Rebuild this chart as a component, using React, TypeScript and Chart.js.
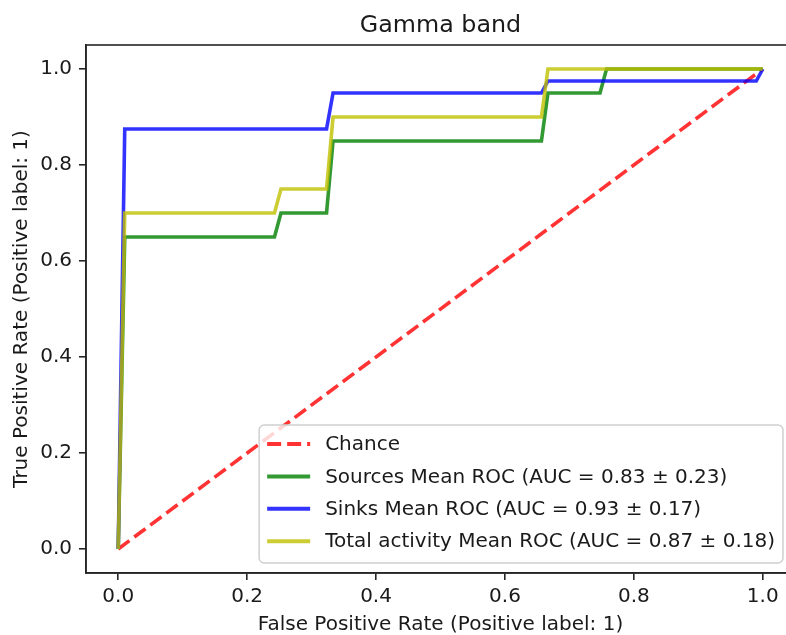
import React, { useEffect, useRef } from "react";
import { Chart, registerables } from "chart.js";

Chart.register(...registerables);

const titleText = "Gamma band";
const xAxisTitle = "False Positive Rate (Positive label: 1)";
const yAxisTitle = "True Positive Rate (Positive label: 1)";
const tickValues = [0, 0.2, 0.4, 0.6, 0.8, 1.0];

const chanceFpr = [0, 1];
const chanceTpr = [0, 1];

const sourcesFpr = [0, 0.0101, 0.2424, 0.2525, 0.3232, 0.3333, 0.6566, 0.6667, 0.7475, 0.7576, 1.0];
const sourcesTpr = [0, 0.65, 0.65, 0.7, 0.7, 0.85, 0.85, 0.95, 0.95, 1.0, 1.0];

const sinksFpr = [0, 0.0101, 0.3232, 0.3333, 0.6566, 0.6667, 0.9899, 1.0];
const sinksTpr = [0, 0.875, 0.875, 0.95, 0.95, 0.975, 0.975, 1.0];

const totalFpr = [0, 0.0101, 0.2424, 0.2525, 0.3232, 0.3333, 0.6566, 0.6667, 1.0];
const totalTpr = [0, 0.7, 0.7, 0.75, 0.75, 0.9, 0.9, 1.0, 1.0];

const seriesLabels = [
  "Chance",
  "Sources Mean ROC (AUC = 0.83 \u00b1 0.23)",
  "Sinks Mean ROC (AUC = 0.93 \u00b1 0.17)",
  "Total activity Mean ROC (AUC = 0.87 \u00b1 0.18)",
];
const seriesColors = [
  "rgba(255,0,0,0.8)",
  "rgba(0,128,0,0.8)",
  "rgba(0,0,255,0.8)",
  "rgba(191,191,0,0.8)",
];

const FONT = "'DejaVu Sans', sans-serif";
const TEXT = "#1a1a1a";
const AXIS = "#262626";

function pts(xs: number[], ys: number[]) {
  return xs.map((x, i) => ({ x, y: ys[i] }));
}

const framePlugin = {
  id: "frameAndExtras",
  afterDraw(chart: any) {
    const { ctx, chartArea } = chart;
    const { left, top, right, bottom } = chartArea;
    ctx.save();
    // spines
    ctx.strokeStyle = AXIS;
    ctx.lineWidth = 1.6;
    ctx.strokeRect(left, top, right - left, bottom - top);
    // title
    ctx.fillStyle = TEXT;
    ctx.font = `23.8px ${FONT}`;
    ctx.textAlign = "center";
    ctx.textBaseline = "alphabetic";
    ctx.fillText(titleText, (left + right) / 2, top - 13);

    // legend
    const fs = 20;
    ctx.font = `${fs}px ${FONT}`;
    const widths = seriesLabels.map((l) => ctx.measureText(l).width);
    const maxW = Math.max(...widths);
    const padL = 8, handleW = 43, gap = 15, padR = 8;
    const boxW = padL + handleW + gap + maxW + padR;
    const boxH = 138;
    const boxR = right - 12;
    const boxB = bottom - 10;
    const boxL = boxR - boxW;
    const boxT = boxB - boxH;
    const r = 5;
    ctx.beginPath();
    ctx.moveTo(boxL + r, boxT);
    ctx.lineTo(boxR - r, boxT);
    ctx.arcTo(boxR, boxT, boxR, boxT + r, r);
    ctx.lineTo(boxR, boxB - r);
    ctx.arcTo(boxR, boxB, boxR - r, boxB, r);
    ctx.lineTo(boxL + r, boxB);
    ctx.arcTo(boxL, boxB, boxL, boxB - r, r);
    ctx.lineTo(boxL, boxT + r);
    ctx.arcTo(boxL, boxT, boxL + r, boxT, r);
    ctx.closePath();
    ctx.fillStyle = "rgba(255,255,255,0.8)";
    ctx.fill();
    ctx.strokeStyle = "#d0d0d0";
    ctx.lineWidth = 1.5;
    ctx.stroke();

    ctx.textAlign = "left";
    ctx.textBaseline = "middle";
    seriesLabels.forEach((lab, i) => {
      const y = boxT + 19 + i * 32.4;
      ctx.beginPath();
      ctx.strokeStyle = seriesColors[i];
      ctx.lineWidth = 4;
      ctx.setLineDash(i === 0 ? [14, 6] : []);
      ctx.moveTo(boxL + padL, y);
      ctx.lineTo(boxL + padL + handleW, y);
      ctx.stroke();
      ctx.setLineDash([]);
      ctx.fillStyle = TEXT;
      ctx.fillText(lab, boxL + padL + handleW + gap, y + 1);
    });
    ctx.restore();
  },
};

export default function App() {
  const ref = useRef<HTMLCanvasElement | null>(null);

  useEffect(() => {
    document.body.style.margin = "0";
    const canvas = ref.current;
    if (!canvas) return;
    Chart.defaults.font.family = FONT;
    const tickFont = { family: FONT, size: 20 };
    const titleFont = { family: FONT, size: 20, lineHeight: 1.0 };

    const chart = new Chart(canvas, {
      type: "line",
      data: {
        datasets: [
          {
            label: seriesLabels[0],
            data: pts(chanceFpr, chanceTpr),
            borderColor: seriesColors[0],
            borderWidth: 3.6,
            borderDash: [14, 6],
            pointRadius: 0,
            tension: 0,
            order: 4,
          },
          {
            label: seriesLabels[1],
            data: pts(sourcesFpr, sourcesTpr),
            borderColor: seriesColors[1],
            borderWidth: 3.6,
            pointRadius: 0,
            tension: 0,
            order: 3,
          },
          {
            label: seriesLabels[2],
            data: pts(sinksFpr, sinksTpr),
            borderColor: seriesColors[2],
            borderWidth: 3.6,
            pointRadius: 0,
            tension: 0,
            order: 2,
          },
          {
            label: seriesLabels[3],
            data: pts(totalFpr, totalTpr),
            borderColor: seriesColors[3],
            borderWidth: 3.6,
            pointRadius: 0,
            tension: 0,
            order: 1,
          },
        ],
      },
      options: {
        responsive: false,
        animation: false,
        layout: { padding: { left: 0, top: 45, right: 5, bottom: 0 } },
        plugins: {
          legend: { display: false },
          tooltip: { enabled: false },
          title: { display: false },
        },
        scales: {
          x: {
            type: "linear",
            min: -0.05,
            max: 1.05,
            afterBuildTicks: (scale: any) => {
              scale.ticks = tickValues.map((v) => ({ value: v }));
            },
            afterFit: (scale: any) => {
              scale.height = 62;
            },
            ticks: {
              font: tickFont,
              color: TEXT,
              padding: 5,
              maxRotation: 0,
              callback: (v: any) => Number(v).toFixed(1),
            },
            grid: {
              drawOnChartArea: false,
              drawTicks: true,
              tickLength: 7,
              color: AXIS,
              lineWidth: 1.6,
            },
            border: { display: true, color: AXIS, width: 1.6 },
            title: {
              display: true,
              text: xAxisTitle,
              font: titleFont,
              color: TEXT,
              padding: { top: 0, bottom: 0 },
            },
          },
          y: {
            type: "linear",
            min: -0.05,
            max: 1.05,
            afterBuildTicks: (scale: any) => {
              scale.ticks = tickValues.map((v) => ({ value: v }));
            },
            afterFit: (scale: any) => {
              scale.width = 86;
            },
            ticks: {
              font: tickFont,
              color: TEXT,
              padding: 7,
              callback: (v: any) => Number(v).toFixed(1),
            },
            grid: {
              drawOnChartArea: false,
              drawTicks: true,
              tickLength: 7,
              color: AXIS,
              lineWidth: 1.6,
            },
            border: { display: true, color: AXIS, width: 1.6 },
            title: {
              display: true,
              text: yAxisTitle,
              font: titleFont,
              color: TEXT,
              padding: { top: 12, bottom: 0 },
            },
          },
        },
      },
      plugins: [framePlugin],
    } as any);

    return () => {
      chart.destroy();
    };
  }, []);

  return (
    <div style={{ width: 786, height: 635, overflow: "hidden", position: "relative" }}>
      <canvas ref={ref} width={800} height={635} style={{ display: "block" }} />
    </div>
  );
}
